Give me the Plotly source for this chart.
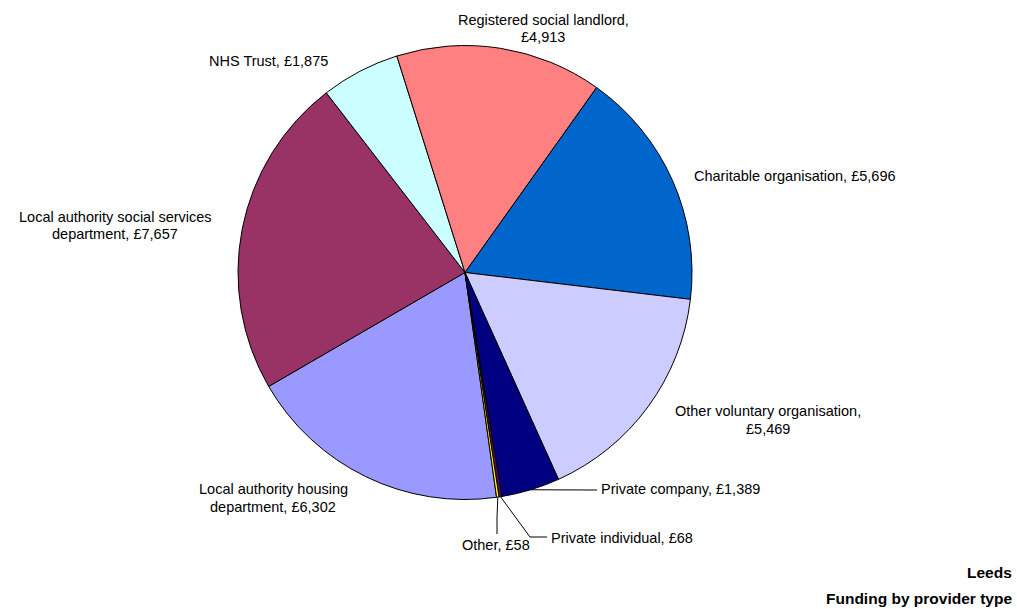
import math
import plotly.graph_objects as go

# Funding by provider type, Leeds (slices listed clockwise from the first one)
providers = [
    "Local authority housing department",
    "Local authority social services department",
    "NHS Trust",
    "Registered social landlord",
    "Charitable organisation",
    "Other voluntary organisation",
    "Private company",
    "Private individual",
    "Other",
]
funding = [6302, 7657, 1875, 4913, 5696, 5469, 1389, 68, 58]
slice_colors = ["#9999FF", "#993366", "#CCFFFF", "#FF8080", "#0066CC",
                "#CCCCFF", "#000080", "#660066", "#FFFF00"]
label_lines = [
    ["Local authority housing", "department, £6,302"],
    ["Local authority social services", "department, £7,657"],
    ["NHS Trust, £1,875"],
    ["Registered social landlord,", "£4,913"],
    ["Charitable organisation, £5,696"],
    ["Other voluntary organisation,", "£5,469"],
    ["Private company, £1,389"],
    ["Private individual, £68"],
    ["Other, £58"],
]

W, H = 1017, 609
CX, CY, R = 465, 272.5, 227      # pie centre and radius, pixels
START = 172                       # first slice angle, degrees clockwise from 12 o'clock
FONT = "Liberation Sans, Arial, sans-serif"

fig = go.Figure(go.Pie(
    labels=providers,
    values=funding,
    sort=False,
    direction="clockwise",
    rotation=START,
    marker=dict(colors=slice_colors, line=dict(color="#000000", width=1)),
    textinfo="none",
    hoverinfo="label+value",
    showlegend=False,
    domain=dict(x=[(CX - R) / W, (CX + R) / W],
                y=[1 - (CY + R) / H, 1 - (CY - R) / H]),
))


def px(x):
    return x / W


def py(y):
    return 1 - y / H


# label anchor positions (pixels): (x, y of first line, xanchor)
label_pos = [
    (273, 489, "center"),
    (115, 217, "center"),
    (268, 61, "center"),
    (543, 20, "center"),
    (795, 176, "center"),
    (768, 411, "center"),
    (599, 489, "left"),
    (549, 538, "left"),
    (496, 545, "center"),
]
LINE_H = 17.5
annotations = []
for lines, (x, y, anchor) in zip(label_lines, label_pos):
    for k, line in enumerate(lines):
        annotations.append(dict(
            x=px(x), y=py(y + k * LINE_H), xref="paper", yref="paper",
            text=line, showarrow=False, xanchor=anchor, yanchor="middle",
            font=dict(family=FONT, size=14.5, color="#000000"),
        ))

# chart titles at the bottom right
for text, y in [("Leeds", 572), ("Funding by provider type", 598)]:
    annotations.append(dict(
        x=px(1014), y=py(y), xref="paper", yref="paper", text=f"<b>{text}</b>",
        showarrow=False, xanchor="right", yanchor="middle",
        font=dict(family=FONT, size=15.5, color="#000000"),
    ))

# leader lines for the small slices: from the slice rim to the label
total = sum(funding)
cum = 0
mid_angle = {}
for name, v in zip(providers, funding):
    mid_angle[name] = START + (cum + v / 2) / total * 360
    cum += v


def rim(name):
    a = math.radians(mid_angle[name])
    return CX + R * math.sin(a), CY - R * math.cos(a)


leaders = {
    "Private company": [(597, 490)],
    "Private individual": [(530, 537), (547, 537)],
    "Other": [(497, 518), (497, 534)],
}
shapes = []
for name, pts in leaders.items():
    x0, y0 = rim(name)
    path = f"M {px(x0)},{py(y0)}" + "".join(f" L {px(x)},{py(y)}" for x, y in pts)
    shapes.append(dict(type="path", xref="paper", yref="paper", path=path,
                       line=dict(color="#000000", width=1)))

fig.update_layout(
    width=W, height=H,
    margin=dict(l=0, r=0, t=0, b=0),
    paper_bgcolor="#FFFFFF",
    plot_bgcolor="#FFFFFF",
    annotations=annotations,
    shapes=shapes,
)

fig.write_html("out.html")
